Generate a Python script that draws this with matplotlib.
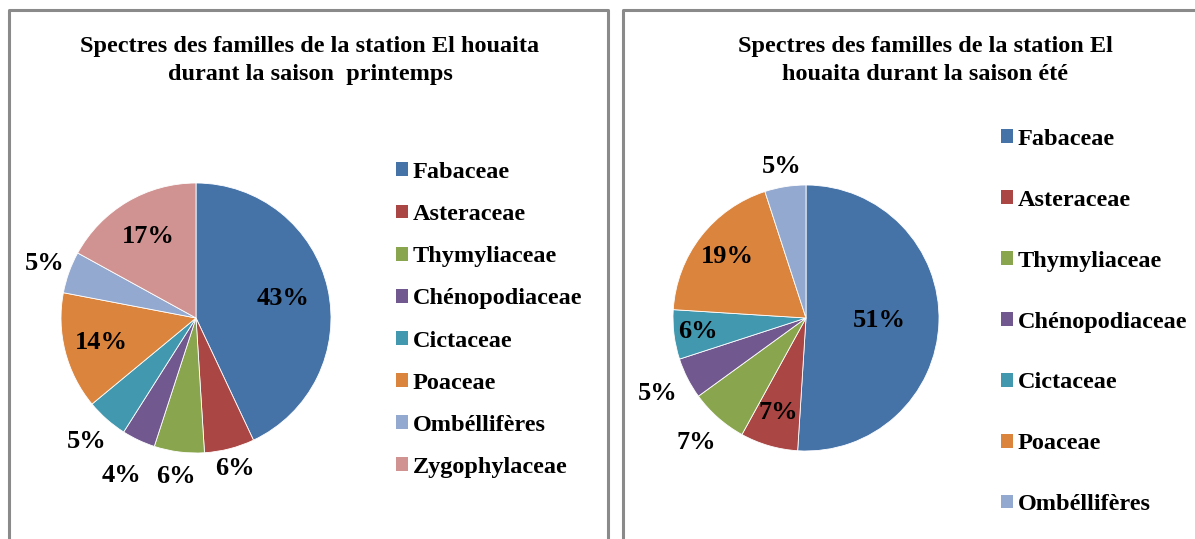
import numpy as np
import matplotlib
matplotlib.use("Agg")
import matplotlib.pyplot as plt
from matplotlib.patches import Patch

plt.rcParams['font.family'] = ['Liberation Serif', 'DejaVu Serif']
plt.rcParams['font.weight'] = 'bold'

# data
families_spring = ['Fabaceae', 'Asteraceae', 'Thymyliaceae', 'Chénopodiaceae',
                   'Cictaceae', 'Poaceae', 'Ombéllifères', 'Zygophylaceae']
pct_spring = [43, 6, 6, 4, 5, 14, 5, 17]

families_summer = ['Fabaceae', 'Asteraceae', 'Thymyliaceae', 'Chénopodiaceae',
                   'Cictaceae', 'Poaceae', 'Ombéllifères']
pct_summer = [51, 7, 7, 5, 6, 19, 5]

title_spring = 'Spectres des familles de la station El houaita\ndurant la saison  printemps'
title_summer = 'Spectres des familles de la station El\nhouaita durant la saison été'

colors = ['#4572A7', '#AA4643', '#89A54E', '#71588F',
          '#4198AF', '#DB843D', '#93A9CF', '#D19392']

# label distance from centre (in radii), as placed in the original
lbl_r_spring = [0.66, 1.15, 1.18, 1.29, 1.22, 0.72, 1.19, 0.70]
lbl_r_summer = [0.55, 0.74, 1.25, 1.25, 0.82, 0.75, 1.15]

W, H = 1195, 539
fig = plt.figure(figsize=(W / 100, H / 100), dpi=100)


def px_axes(cx, cy, r):
    # axes box around a pie centred at pixel (cx, cy) with radius r
    return fig.add_axes([(cx - r) / W, (H - cy - r) / H, 2 * r / W, 2 * r / H])


def draw_pie(ax, values, lbl_r):
    wedges, _ = ax.pie(values, colors=colors[:len(values)], startangle=90,
                       counterclock=False, radius=1,
                       wedgeprops=dict(edgecolor='white', linewidth=0.6))
    ax.set_xlim(-1, 1)
    ax.set_ylim(-1, 1)
    ax.set_aspect('equal')
    ax.axis('off')
    total = float(sum(values))
    start = 90.0
    for v, rr in zip(values, lbl_r):
        mid = np.deg2rad(start - v / total * 180.0)
        start -= v / total * 360.0
        ax.text(rr * np.cos(mid), rr * np.sin(mid), f'{v}%', ha='center',
                va='center', fontsize=19, fontweight='bold', clip_on=False)
    return wedges


ax1 = px_axes(196, 318, 135)
draw_pie(ax1, pct_spring, lbl_r_spring)
ax2 = px_axes(806, 318, 133)
draw_pie(ax2, pct_summer, lbl_r_summer)

h1 = [Patch(facecolor=c) for c in colors[:len(families_spring)]]
h2 = [Patch(facecolor=c) for c in colors[:len(families_summer)]]

leg_kw = dict(frameon=False, prop=dict(family='Liberation Serif', weight='bold', size=17.5),
              handlelength=0.5, handleheight=0.5, handletextpad=0.2,
              borderaxespad=0, borderpad=0, loc='upper left')
fig.legend(h1, families_spring, bbox_to_anchor=(396 / W, 1 - 162 / H),
           labelspacing=0.87, **leg_kw)
fig.legend(h2, families_summer, bbox_to_anchor=(1001 / W, 1 - 129 / H),
           labelspacing=1.64, **leg_kw)

fig.text(310 / W, 1 - 60.5 / H, title_spring, ha='center', va='center',
         fontsize=17.5, fontweight='bold', linespacing=1.45)
fig.text(925 / W, 1 - 60.5 / H, title_summer, ha='center', va='center',
         fontsize=17.5, fontweight='bold', linespacing=1.45)

# panel frames
border = '#8a8a8a'
for x0, x1 in [(9, 608), (623, 1200)]:
    xs = [x0 / W, x0 / W, x1 / W, x1 / W]
    ys = [-0.05, 1 - 10 / H, 1 - 10 / H, -0.05]
    fig.add_artist(plt.Line2D(xs, ys, color=border, lw=2.2,
                              transform=fig.transFigure))

fig.savefig('out.png', dpi=100)
